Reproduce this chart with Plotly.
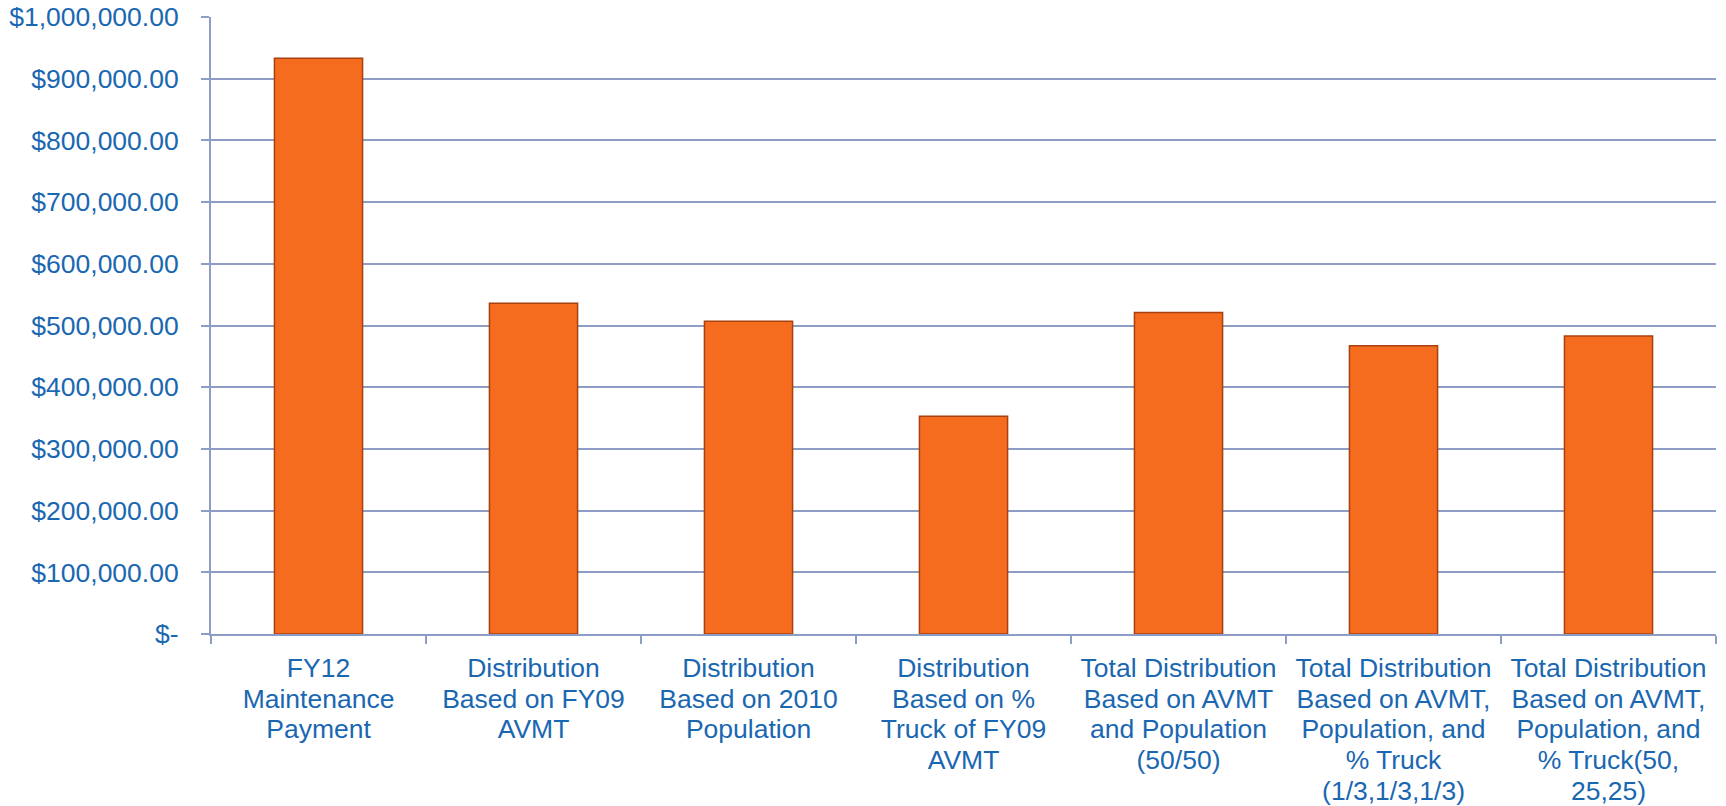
import plotly.graph_objects as go

# categorie e valori
categorie = [
    "FY12 Maintenance Payment",
    "Distribution Based on FY09 AVMT",
    "Distribution Based on 2010 Population",
    "Distribution Based on % Truck of FY09 AVMT",
    "Total Distribution Based on AVMT and Population (50/50)",
    "Total Distribution Based on AVMT, Population, and % Truck (1/3,1/3,1/3)",
    "Total Distribution Based on AVMT, Population, and % Truck(50, 25,25)",
]
etichette_x = [
    "FY12<br>Maintenance<br>Payment",
    "Distribution<br>Based on FY09<br>AVMT",
    "Distribution<br>Based on 2010<br>Population",
    "Distribution<br>Based on %<br>Truck of FY09<br>AVMT",
    "Total Distribution<br>Based on AVMT<br>and Population<br>(50/50)",
    "Total Distribution<br>Based on AVMT,<br>Population, and<br>% Truck<br>(1/3,1/3,1/3)",
    "Total Distribution<br>Based on AVMT,<br>Population, and<br>% Truck(50,<br>25,25)",
]
valori = [933000, 536000, 507000, 353000, 521000, 467000, 483000]

tick_y = [0, 100000, 200000, 300000, 400000, 500000, 600000, 700000, 800000, 900000, 1000000]
testo_y = ["$-", "$100,000.00", "$200,000.00", "$300,000.00", "$400,000.00", "$500,000.00",
           "$600,000.00", "$700,000.00", "$800,000.00", "$900,000.00", "$1,000,000.00"]

blu = "#1A67B1"
griglia = "#8D9DC6"

fig = go.Figure(
    data=[go.Bar(
        x=categorie, y=valori,
        marker=dict(color="#F56C1F", line=dict(color="#A8410F", width=1.5)),
        width=0.41,
    )]
)

fig.update_layout(
    width=1726, height=806,
    margin=dict(l=211, r=10, t=17, b=172),
    paper_bgcolor="white", plot_bgcolor="white",
    font=dict(family="Liberation Sans, Arial, sans-serif", size=26, color=blu),
    showlegend=False,
)
fig.update_xaxes(
    tickmode="array", tickvals=categorie, ticktext=etichette_x,
    tickson="boundaries", ticks="outside", ticklen=8, tickcolor=griglia, tickwidth=2,
    showline=True, linecolor=griglia, linewidth=2,
    showgrid=False, tickangle=0, automargin=False,
    tickfont=dict(size=26.5), ticklabelstandoff=9,
)
fig.update_yaxes(
    range=[0, 1000000], tickmode="array", tickvals=tick_y, ticktext=testo_y,
    ticks="outside", ticklen=8, tickcolor=griglia, tickwidth=2,
    showline=True, linecolor=griglia, linewidth=2,
    showgrid=True, gridcolor=griglia, gridwidth=2,
    ticklabelstandoff=17, zeroline=False, automargin=False,
    tickfont=dict(size=26.5),
)

# niente margine del body, e interlinea più stretta per le etichette delle categorie
post = """
document.body.style.margin='0';
function stringi(){
  document.querySelectorAll('.xtick text tspan.line').forEach(function(t){
    if (t.dataset.fatto) return;
    var dy = parseFloat(t.getAttribute('dy'));
    if (!isNaN(dy)) { t.setAttribute('dy', (dy / 1.3 * 1.16).toFixed(3) + 'em'); t.dataset.fatto = '1'; }
  });
}
stringi();
setTimeout(stringi, 50);
setTimeout(stringi, 300);
"""
fig.write_html("out.html", post_script=post, config={"displayModeBar": False})
